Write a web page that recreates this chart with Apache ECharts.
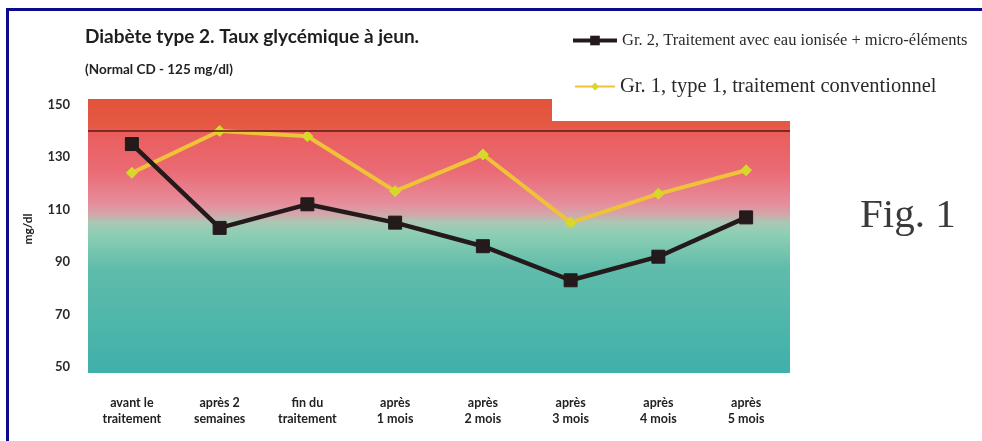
<!DOCTYPE html>
<html>
<head>
<meta charset="utf-8">
<script src="https://cdn.jsdelivr.net/npm/echarts@6/dist/echarts.min.js"></script>
<style>
  html, body { margin: 0; padding: 0; background: #ffffff; }
  #chart { width: 982px; height: 441px; }
</style>
</head>
<body>
<div id="chart"></div>
<script>
// Time points of the follow-up
const categories = [
  'avant le\ntraitement', 'après 2\nsemaines', 'fin du\ntraitement', 'après\n1 mois',
  'après\n2 mois', 'après\n3 mois', 'après\n4 mois', 'après\n5 mois'
];
// Fasting glycaemia, mg/dl
const group2Values = [135, 103, 112, 105, 96, 83, 92, 107];
const group1Values = [124, 140, 138, 117, 131, 105, 116, 125];
const yTickLabels = [50, 70, 90, 110, 130, 150];
const thresholdValue = 140;

const group2Name = 'Gr. 2, Traitement avec eau ionisée + micro-éléments';
const group1Name = 'Gr. 1, type 1, traitement conventionnel';

const chart = echarts.init(document.getElementById('chart'), null, { renderer: 'canvas' });

const sansBold = 'Lato, "Open Sans", "DejaVu Sans", sans-serif';
const serif = '"Liberation Serif", "DejaVu Serif", serif';

const option = {
  backgroundColor: '#ffffff',
  animation: false,
  title: [
    {
      text: 'Diabète type 2. Taux glycémique à jeun.',
      left: 80, top: 22,
      textStyle: { fontFamily: sansBold, fontWeight: 'bold', fontSize: 19, color: '#1e1e1e' }
    },
    {
      text: '(Normal CD - 125 mg/dl)',
      left: 80, top: 58,
      textStyle: { fontFamily: sansBold, fontWeight: 'bold', fontSize: 13.5, color: '#222222' }
    }
  ],
  legend: [
    {
      data: [{ name: group2Name }],
      left: 566, top: 27,
      itemWidth: 44, itemHeight: 12, itemGap: 4,
      lineStyle: { width: 4 },
      textStyle: { fontFamily: serif, fontSize: 16.5, color: '#2a2a2a' }
    },
    {
      data: [{ name: group1Name }],
      left: 569, top: 71,
      itemWidth: 40, itemHeight: 10, itemGap: 5,
      lineStyle: { width: 2 },
      textStyle: { fontFamily: serif, fontSize: 20.5, color: '#2a2a2a' }
    }
  ],
  grid: {
    left: 88, right: 192, top: 99, bottom: 68,
    show: true,
    borderWidth: 0,
    backgroundColor: new echarts.graphic.LinearGradient(0, 0, 0, 1, [
      { offset: 0.0, color: '#e2533b' },
      { offset: 0.10, color: '#e55843' },
      { offset: 0.12, color: '#e95e5c' },
      { offset: 0.26, color: '#ea6a74' },
      { offset: 0.38, color: '#e68d9b' },
      { offset: 0.42, color: '#d3a6a9' },
      { offset: 0.45, color: '#abc7b4' },
      { offset: 0.49, color: '#8ecfb4' },
      { offset: 0.62, color: '#5fbcab' },
      { offset: 1.0, color: '#3fb0aa' }
    ])
  },
  xAxis: {
    type: 'category',
    data: categories,
    boundaryGap: true,
    axisLine: { show: false },
    axisTick: { show: false },
    axisLabel: {
      margin: 22,
      interval: 0,
      fontFamily: sansBold, fontWeight: 'bold', fontSize: 12.5, lineHeight: 16,
      color: '#222222'
    }
  },
  yAxis: {
    type: 'value',
    min: 47.6,
    max: 152.2,
    name: 'mg/dl',
    nameLocation: 'middle',
    nameRotate: 90,
    nameGap: 54,
    nameTextStyle: { fontFamily: sansBold, fontWeight: 'bold', fontSize: 12, color: '#222222', padding: [0, 0, 0, 14] },
    axisLine: { show: false },
    axisTick: { show: false },
    splitLine: { show: false },
    axisLabel: {
      customValues: yTickLabels,
      margin: 18,
      fontFamily: sansBold, fontWeight: 'bold', fontSize: 13, color: '#2a2a2a'
    }
  },
  graphic: [
    // white step cut out of the upper-right corner of the plot background
    {
      type: 'rect', z: 1, silent: true,
      shape: { x: 552, y: 97, width: 242, height: 24 },
      style: { fill: '#ffffff' }
    },
    {
      type: 'text', z: 5, left: 860, top: 196,
      style: { text: 'Fig. 1', fontFamily: serif, fontSize: 41, fill: '#3a3a3a' }
    },
    // frame
    {
      type: 'rect', z: 10, silent: true,
      shape: { x: 7.5, y: 9.5, width: 1100, height: 600 },
      style: { fill: 'none', stroke: '#0b0b8a', lineWidth: 3 }
    }
  ],
  series: [
    {
      name: group1Name,
      type: 'line',
      data: group1Values,
      z: 3,
      symbol: 'diamond',
      symbolSize: 11,
      itemStyle: { color: '#d6d92a', borderColor: '#d6d92a' },
      lineStyle: { color: '#f0c238', width: 4 },
      markLine: {
        silent: true,
        symbol: 'none',
        label: { show: false },
        lineStyle: { color: '#5a1810', width: 1.5, type: 'solid' },
        data: [{ yAxis: thresholdValue }]
      }
    },
    {
      name: group2Name,
      type: 'line',
      data: group2Values,
      z: 4,
      symbol: 'rect',
      symbolSize: 13,
      itemStyle: { color: '#241a1c', borderColor: '#241a1c' },
      lineStyle: { color: '#241a1c', width: 4.5 }
    }
  ]
};

chart.setOption(option);
</script>
</body>
</html>
